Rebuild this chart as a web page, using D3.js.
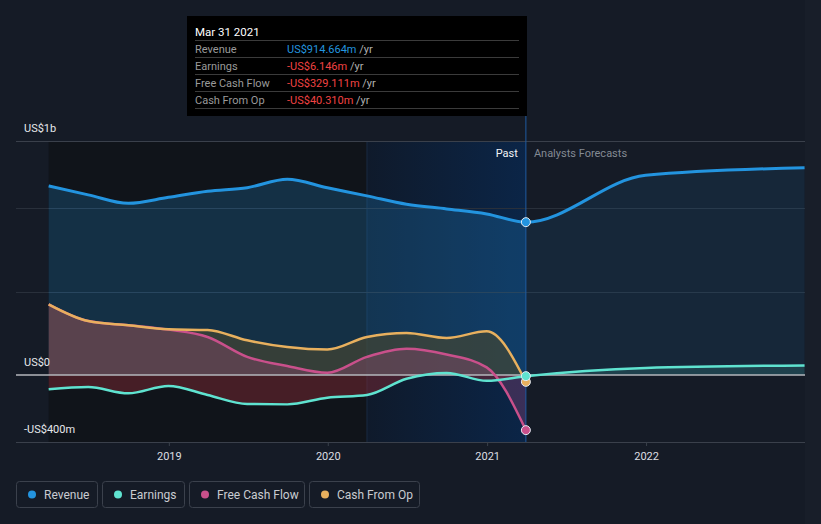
<!DOCTYPE html>
<html>
<head>
<meta charset="utf-8">
<script src="https://cdnjs.cloudflare.com/ajax/libs/d3/7.8.5/d3.min.js"></script>
<style>
    body { margin: 0; background: #151b26; }
    svg { display: block; font-family: Roboto, "Noto Sans", sans-serif; }
</style>
</head>
<body>
<div id="chart"></div>
<script>
!(function(){
    "use strict"

    var width = 821;
    var height = 524;

    // quarterly trailing values, US$ m
    var pastDates = ["2018-03-31", "2018-06-30", "2018-09-30", "2018-12-31", "2019-03-31", "2019-06-30",
        "2019-09-30", "2019-12-31", "2020-03-31", "2020-06-30", "2020-09-30", "2020-12-31", "2021-03-31"];
    var revenue = [1131, 1078, 1027, 1063, 1100, 1121, 1171, 1120, 1072, 1022, 994, 964, 914.664];
    var earnings = [-85, -71, -109, -65, -119, -173, -175, -135, -119, -22, 13, -34, -6.146];
    var freeCashFlow = [423, 323, 298, 272, 228, 109, 54, 14, 109, 157, 123, 46, -329.111];
    var cashFromOp = [423, 323, 298, 274, 270, 208, 168, 153, 228, 252, 222, 262, -40.31];

    var forecastDates = ["2021-12-31", "2022-12-31"];
    var revenueForecast = [1195, 1240];
    var earningsForecast = [43, 58];

    var gridValues = [1400, 1000, 500, -400];
    var yLabels = ["US$1b", "US$0", "-US$400m"];
    var yLabelValues = [1400, 0, -400];
    var xTickYears = [2019, 2020, 2021, 2022];

    var legendNames = ["Revenue", "Earnings", "Free Cash Flow", "Cash From Op"];
    var colors = ["#2394df", "#5fe3d0", "#c9508b", "#e8b05e"];

    var tooltipRows = [
        ["Revenue", "US$914.664m", "#2394df"],
        ["Earnings", "-US$6.146m", "#f04343"],
        ["Free Cash Flow", "-US$329.111m", "#f04343"],
        ["Cash From Op", "-US$40.310m", "#f04343"]
    ];

    var parse = d3.timeParse("%Y-%m-%d");
    var past = pastDates.map(parse);
    var fut = forecastDates.map(parse);

    function zip(dates, vals) {
        return dates.map(function(d, i) { return { date: d, v: vals[i] }; });
    }

    var revData = zip(past, revenue).concat(zip(fut, revenueForecast));
    var earnData = zip(past, earnings).concat(zip(fut, earningsForecast));
    var fcfData = zip(past, freeCashFlow);
    var cfoData = zip(past, cashFromOp);

    var x = d3.scaleTime()
        .domain([parse("2018-01-15"), parse("2023-01-01")])
        .range([16, 805]);
    var y = d3.scaleLinear()
        .domain([-400, 1400])
        .range([442, 141]);

    var xNow = x(past[past.length - 1]);
    var xYearAgo = x(parse("2020-03-31"));
    var y0 = y(0);

    var svg = d3.select("#chart").append("svg")
        .attr("width", width)
        .attr("height", height);

    var defs = svg.append("defs");
    var grad = defs.append("linearGradient").attr("id", "hl").attr("x1", 0).attr("x2", 1).attr("y1", 0).attr("y2", 0);
    grad.append("stop").attr("offset", 0).attr("stop-color", "#0f1a2b");
    grad.append("stop").attr("offset", 1).attr("stop-color", "#0b2547");

    function clip(id, x0, x1, ya, yb) {
        defs.append("clipPath").attr("id", id).append("rect")
            .attr("x", x0).attr("y", ya).attr("width", x1 - x0).attr("height", yb - ya);
    }
    clip("past", 0, xNow, 0, height);
    clip("future", xNow, width, 0, height);
    clip("above", 0, width, 0, y0);
    clip("below", 0, width, y0, height);

    // backgrounds
    svg.append("rect").attr("x", 805).attr("y", 0).attr("width", 16).attr("height", height).attr("fill", "#181e29");
    svg.append("rect")
        .attr("x", x(past[0])).attr("y", y(1400))
        .attr("width", xYearAgo - x(past[0])).attr("height", y(-400) - y(1400))
        .attr("fill", "#10141a");
    svg.append("rect")
        .attr("x", xYearAgo).attr("y", y(1400))
        .attr("width", xNow - xYearAgo).attr("height", y(-400) - y(1400))
        .attr("fill", "url(#hl)");
    svg.append("line")
        .attr("x1", xYearAgo).attr("x2", xYearAgo).attr("y1", y(1400)).attr("y2", y(-400))
        .attr("stroke", "#1a2a42").attr("stroke-width", 1);

    // grid
    svg.selectAll(".grid").data(gridValues).enter().append("line")
        .attr("x1", 16).attr("x2", 805)
        .attr("y1", function(d) { return Math.round(y(d)) + 0.5; })
        .attr("y2", function(d) { return Math.round(y(d)) + 0.5; })
        .attr("stroke", function(d) { return (d === 1400 || d === -400) ? "#3a404b" : "#29303b"; })
        .attr("stroke-width", 1);

    var curve = d3.curveMonotoneX;
    function area(data) {
        return d3.area().curve(curve)
            .x(function(d) { return x(d.date); })
            .y0(y0)
            .y1(function(d) { return y(d.v); })(data);
    }
    function line(data) {
        return d3.line().curve(curve)
            .x(function(d) { return x(d.date); })
            .y(function(d) { return y(d.v); })(data);
    }

    // areas
    svg.append("path").attr("d", area(revData)).attr("clip-path", "url(#past)")
        .attr("fill", colors[0]).attr("fill-opacity", 0.22);
    svg.append("path").attr("d", area(revData)).attr("clip-path", "url(#future)")
        .attr("fill", colors[0]).attr("fill-opacity", 0.1);
    svg.append("path").attr("d", area(cfoData))
        .attr("fill", "#464631").attr("fill-opacity", 0.65);
    svg.append("path").attr("d", area(fcfData))
        .attr("fill", colors[2]).attr("fill-opacity", 0.25);
    svg.append("path").attr("d", area(earnData)).attr("clip-path", "url(#above)")
        .attr("fill", colors[1]).attr("fill-opacity", 0.14);
    svg.append("path").attr("d", area(earnData)).attr("clip-path", "url(#below)")
        .attr("fill", "#8a2a35").attr("fill-opacity", 0.45);

    // zero line
    svg.append("line")
        .attr("x1", 16).attr("x2", 805).attr("y1", y0).attr("y2", y0)
        .attr("stroke", "#b4b7bd").attr("stroke-width", 1.5);

    // lines
    svg.append("path").attr("d", line(fcfData)).attr("fill", "none")
        .attr("stroke", colors[2]).attr("stroke-width", 2.5);
    svg.append("path").attr("d", line(cfoData)).attr("fill", "none")
        .attr("stroke", colors[3]).attr("stroke-width", 2.5);
    svg.append("path").attr("d", line(earnData)).attr("fill", "none")
        .attr("stroke", colors[1]).attr("stroke-width", 2.5);
    svg.append("path").attr("d", line(revData)).attr("fill", "none")
        .attr("stroke", colors[0]).attr("stroke-width", 3);

    // now line
    svg.append("line")
        .attr("x1", xNow).attr("x2", xNow).attr("y1", 116).attr("y2", y(-400))
        .attr("stroke", "#1f5aa0").attr("stroke-width", 1);

    // current dots
    var nowVals = [revenue, earnings, freeCashFlow, cashFromOp].map(function(s) { return s[s.length - 1]; });
    var dotOrder = [0, 2, 3, 1];
    svg.selectAll(".dot").data(dotOrder).enter().append("circle")
        .attr("cx", xNow)
        .attr("cy", function(i) { return y(nowVals[i]); })
        .attr("r", 4.5)
        .attr("fill", function(i) { return colors[i]; })
        .attr("stroke", "#e4ecf4").attr("stroke-width", 1);

    // y labels
    svg.selectAll(".ylab").data(yLabels).enter().append("text")
        .attr("x", 24)
        .attr("y", function(d, i) { return y(yLabelValues[i]) - 9; })
        .attr("fill", "#e6e8eb").attr("font-size", 11)
        .text(function(d) { return d; });

    // x axis
    var xAxis = svg.append("g")
        .attr("transform", "translate(0," + Math.round(y(-400)) + ")")
        .call(d3.axisBottom(x)
            .tickValues(xTickYears.map(function(yr) { return new Date(yr, 0, 1); }))
            .tickFormat(d3.timeFormat("%Y"))
            .tickSize(4).tickPadding(6));
    xAxis.select(".domain").remove();
    xAxis.selectAll("line").attr("stroke", "#3a404b");
    xAxis.selectAll("text").attr("fill", "#dcdee2").attr("font-size", 11)
        .attr("font-family", "Roboto, 'Noto Sans', sans-serif");

    // past / forecast labels
    svg.append("text").attr("x", xNow - 8).attr("y", 157).attr("text-anchor", "end")
        .attr("fill", "#f2f4f6").attr("font-size", 11).text("Past");
    svg.append("text").attr("x", xNow + 8).attr("y", 157)
        .attr("fill", "#848a93").attr("font-size", 11).text("Analysts Forecasts");

    // tooltip
    var tip = svg.append("g");
    tip.append("rect").attr("x", 187).attr("y", 16).attr("width", 340).attr("height", 100).attr("fill", "#000");
    tip.append("text").attr("x", 195).attr("y", 36).attr("fill", "#fff").attr("font-size", 11.5).text("Mar 31 2021");
    tooltipRows.forEach(function(r, i) {
        var top = 40 + i * 17;
        tip.append("line").attr("x1", 195).attr("x2", 519).attr("y1", top + 0.5).attr("y2", top + 0.5)
            .attr("stroke", "#3b3b3b");
        tip.append("text").attr("x", 195).attr("y", top + 12.5).attr("fill", "#9a9a9a").attr("font-size", 11).text(r[0]);
        var t = tip.append("text").attr("x", 287).attr("y", top + 12.5).attr("font-size", 11);
        t.append("tspan").attr("fill", r[2]).text(r[1]);
        t.append("tspan").attr("fill", "#b0b0b0").text(" /yr");
    });
    tip.append("line").attr("x1", 195).attr("x2", 519).attr("y1", 108.5).attr("y2", 108.5).attr("stroke", "#3b3b3b");

    // legend
    var legX = [16, 102, 189, 309];
    var legW = [81, 82, 115, 110];
    var leg = svg.selectAll(".leg").data(legendNames).enter().append("g")
        .attr("transform", function(d, i) { return "translate(" + legX[i] + ",481)"; });
    leg.append("rect").attr("x", 0.5).attr("y", 0.5).attr("width", function(d, i) { return legW[i]; }).attr("height", 26)
        .attr("rx", 3).attr("fill", "none").attr("stroke", "#3b414c");
    leg.append("circle").attr("cx", 16).attr("cy", 13.5).attr("r", 4)
        .attr("fill", function(d, i) { return colors[i]; });
    leg.append("text").attr("x", 28).attr("y", 17.5).attr("fill", "#c9ccd1").attr("font-size", 12)
        .text(function(d) { return d; });

}());
</script>
</body>
</html>
